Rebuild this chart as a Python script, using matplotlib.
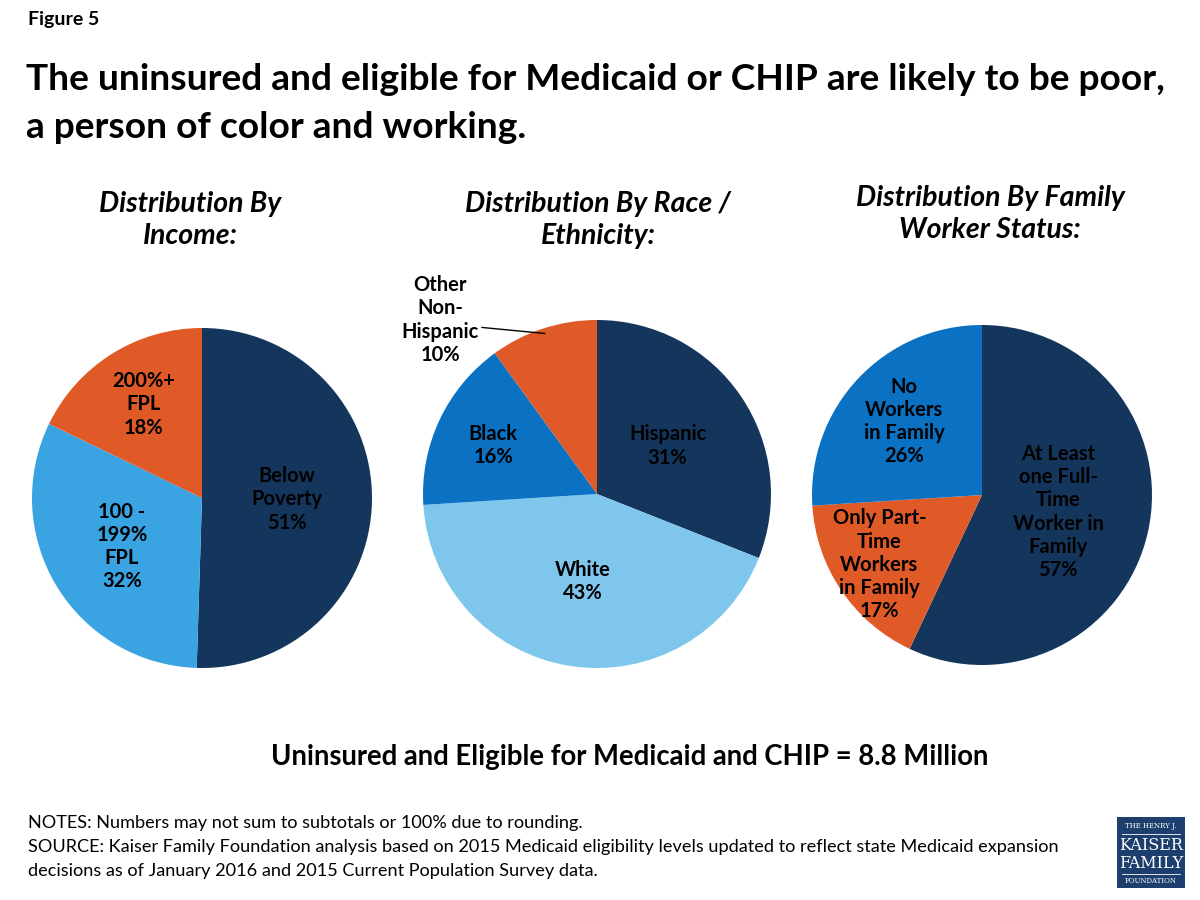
import numpy as np
import matplotlib.pyplot as plt
from matplotlib.patches import Rectangle

# data
income_labels = ["Below\nPoverty", "100 -\n199%\nFPL", "200%+\nFPL"]
income_values = [51, 32, 18]
race_labels = ["Hispanic", "White", "Black", "Other\nNon-\nHispanic"]
race_values = [31, 43, 16, 10]
work_labels = ["At Least\none Full-\nTime\nWorker in\nFamily", "Only Part-\nTime\nWorkers\nin Family",
               "No\nWorkers\nin Family"]
work_values = [57, 17, 26]

NAVY = "#15365c"
ORANGE = "#e05a27"
LBLUE = "#3aa3e2"
PBLUE = "#7fc6ed"
MBLUE = "#0b71c2"

W, H = 1200, 900
FONT = ["Lato", "DejaVu Sans"]
plt.rcParams['font.family'] = FONT

fig = plt.figure(figsize=(12, 9), dpi=100)
fig.patch.set_facecolor("white")

LAB = dict(fontsize=14.5, fontweight="bold", color="black", linespacing=1.2, ha="center", va="center")


def px(x, y):
    return x / W, 1 - y / H


def pie_axes(cx, cy, r):
    ax = fig.add_axes([(cx - r) / W, 1 - (cy + r) / H, 2 * r / W, 2 * r / H])
    return ax


def draw_pie(ax, values, labels, colors, dists):
    wedges, _ = ax.pie(values, colors=colors, startangle=90, counterclock=False,
                       radius=1, wedgeprops=dict(linewidth=0))
    ax.set_xlim(-1, 1)
    ax.set_ylim(-1, 1)
    ax.axis("off")
    for w, lab, v, d in zip(wedges, labels, values, dists):
        if d is None:
            continue
        ang = np.radians((w.theta1 + w.theta2) / 2)
        ax.text(d * np.cos(ang), d * np.sin(ang), f"{lab}\n{v}%", **LAB)
    return wedges


# titles
fig.text(*px(28, 20), "Figure 5", fontsize=14, fontweight="bold", va="center")
fig.text(*px(26, 80), "The uninsured and eligible for Medicaid or CHIP are likely to be poor,",
         fontsize=26.7, fontweight="bold", va="center")
fig.text(*px(26, 128), "a person of color and working.", fontsize=26.7, fontweight="bold", va="center")

sub = dict(fontsize=20.5, fontweight="bold", style="italic", ha="center", va="center", linespacing=1.3)
fig.text(*px(190, 220), "Distribution By\nIncome:", **sub)
fig.text(*px(598, 220), "Distribution By Race /\nEthnicity:", **sub)
fig.text(*px(990, 214), "Distribution By Family\nWorker Status:", **sub)

# pies
ax1 = pie_axes(202, 498, 170)
draw_pie(ax1, income_values, income_labels, [NAVY, LBLUE, ORANGE], [0.5, 0.55, 0.65])

ax2 = pie_axes(597, 494, 174)
w2 = draw_pie(ax2, race_values, race_labels, [NAVY, PBLUE, MBLUE, ORANGE], [0.49, 0.51, 0.66, None])
ow = w2[3]
oang = np.radians((ow.theta1 + ow.theta2) / 2)
ax2.annotate(f"{race_labels[3]}\n{race_values[3]}%", xy=(0.97 * np.cos(oang), 0.97 * np.sin(oang)),
             xytext=(-0.9, 1.0), annotation_clip=False,
             arrowprops=dict(arrowstyle="-", color="black", lw=1, shrinkA=0, shrinkB=0,
                             relpos=(1.0, 0.42)), **LAB)

ax3 = pie_axes(982, 495, 170)
draw_pie(ax3, work_values, work_labels, [NAVY, ORANGE, MBLUE], [0.46, 0.73, 0.63])

# bottom text
fig.text(*px(630, 757), "Uninsured and Eligible for Medicaid and CHIP = 8.8 Million",
         fontsize=19.8, fontweight="bold", ha="center", va="center")
notes = ["NOTES: Numbers may not sum to subtotals or 100% due to rounding.",
         "SOURCE: Kaiser Family Foundation analysis based on 2015 Medicaid eligibility levels updated to reflect state Medicaid expansion",
         "decisions as of January 2016 and 2015 Current Population Survey data."]
for i, n in enumerate(notes):
    fig.text(*px(28, 823 + 24 * i), n, fontsize=13.1, va="center")

# logo
lx, ly = px(1117, 888)
fig.patches.append(Rectangle((lx, ly), 68 / W, 71 / H, transform=fig.transFigure,
                             facecolor="#1d3f6e", edgecolor="none"))
serif = dict(family="DejaVu Serif", color="white", ha="center", va="center")
fig.text(*px(1151, 826), "THE HENRY J.", fontsize=5, **serif)
fig.text(*px(1151, 845), "KAISER", fontsize=11.5, **serif)
fig.text(*px(1151, 864), "FAMILY", fontsize=11.5, **serif)
fig.text(*px(1151, 881), "FOUNDATION", fontsize=5, **serif)
for yy in (834, 874):
    x0, y0 = px(1122, yy)
    fig.lines.append(plt.Line2D([x0, x0 + 58 / W], [y0, y0], transform=fig.transFigure,
                                color="white", lw=0.6))

fig.savefig("out.png", dpi=100)
